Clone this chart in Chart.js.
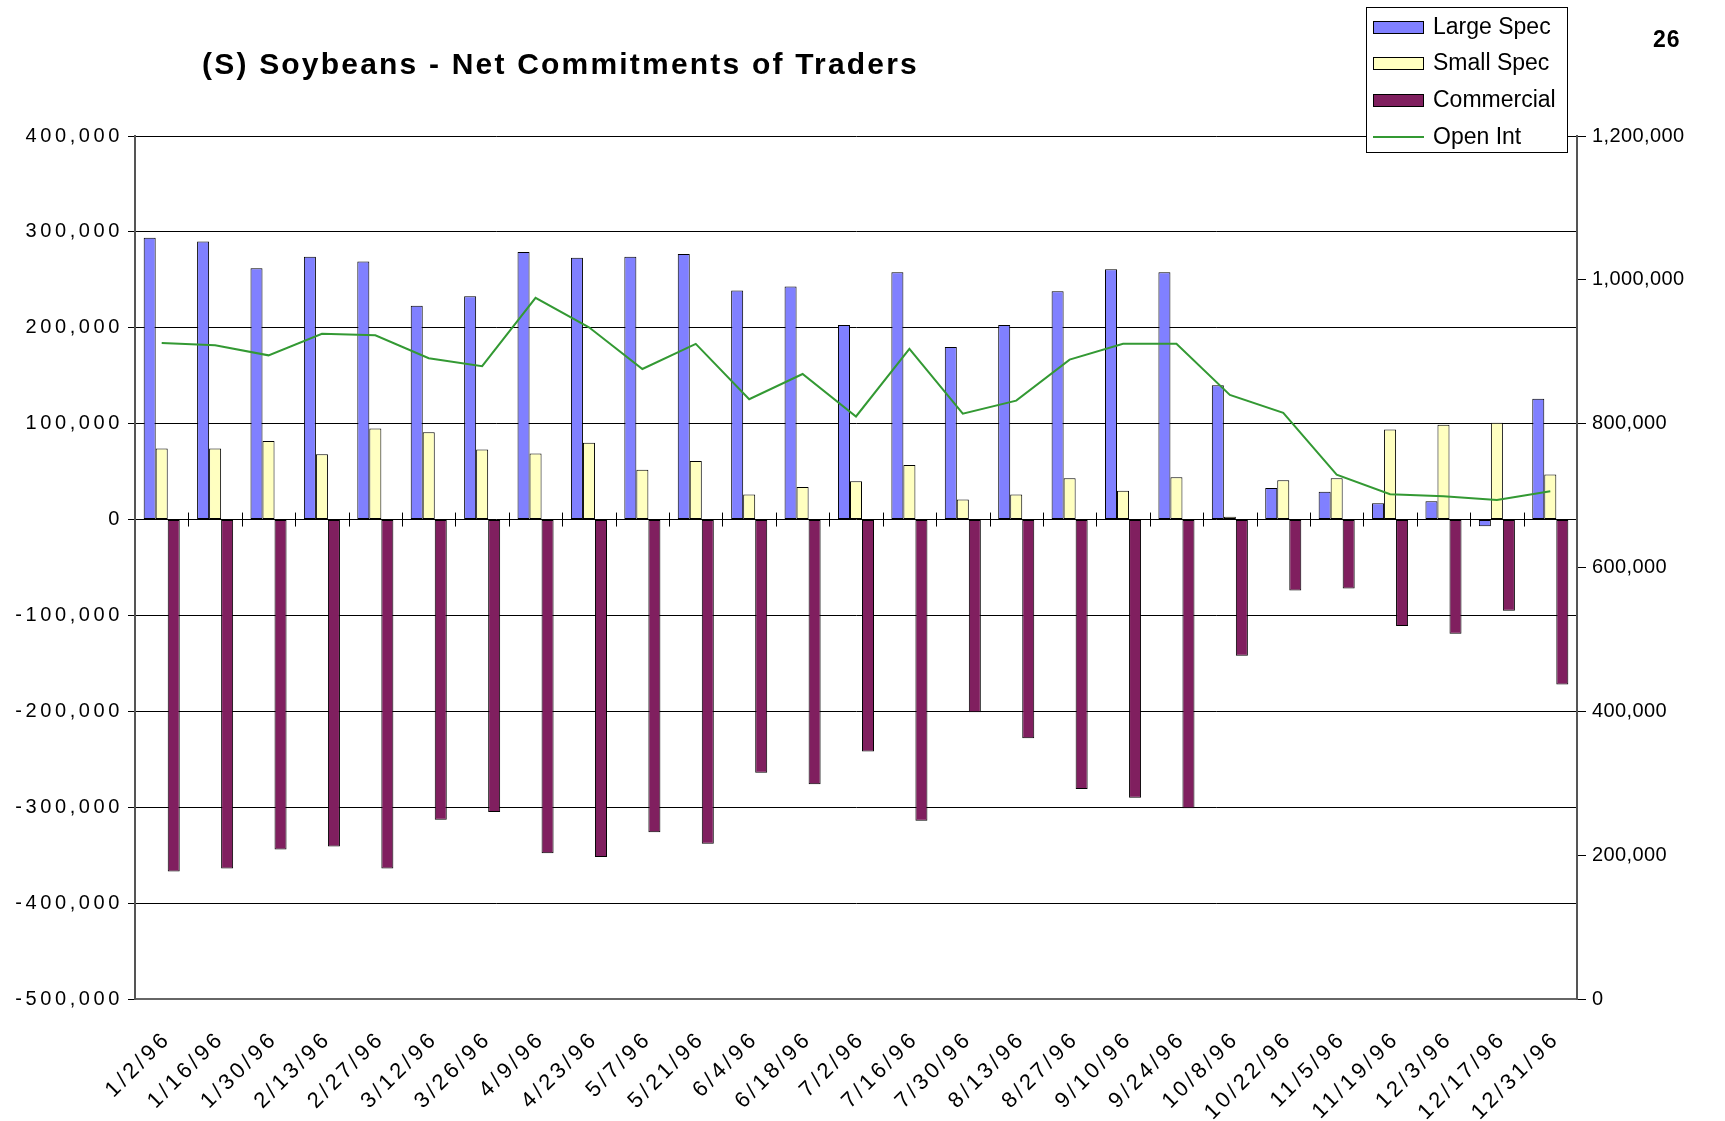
<!DOCTYPE html>
<html>
<head>
    <title>(S) Soybeans - Net Commitments of Traders</title>
    <script src="https://cdn.jsdelivr.net/npm/chart.js"></script>
    <style>
        html, body {
            margin: 0;
            padding: 0;
            background: #fff;
        }
        #wrap {
            width: 1725px;
            height: 1121px;
        }
    </style>
</head>
<body>
    <div id="wrap"><canvas id="cotChart" width="1725" height="1121"></canvas></div>

    <script>
        const weeks = ['1/2/96', '1/16/96', '1/30/96', '2/13/96', '2/27/96', '3/12/96', '3/26/96', '4/9/96', '4/23/96',
            '5/7/96', '5/21/96', '6/4/96', '6/18/96', '7/2/96', '7/16/96', '7/30/96', '8/13/96', '8/27/96', '9/10/96',
            '9/24/96', '10/8/96', '10/22/96', '11/5/96', '11/19/96', '12/3/96', '12/17/96', '12/31/96'];

        const largeSpec = [294000, 290000, 262000, 274000, 269000, 223000, 233000, 279000, 273000, 274000, 277000,
            239000, 243000, 203000, 258000, 180000, 203000, 238000, 261000, 258000, 140000, 33000, 29000, 17000,
            19000, -7000, 126000];

        const smallSpec = [74000, 74000, 82000, 68000, 95000, 91000, 73000, 69000, 80000, 52000, 61000, 26000,
            34000, 40000, 57000, 21000, 26000, 43000, 30000, 44000, 3000, 41000, 43000, 94000, 99000, 101000, 47000];

        const commercial = [-367000, -364000, -344000, -341000, -364000, -313000, -305000, -348000, -352000,
            -326000, -338000, -264000, -276000, -242000, -314000, -201000, -228000, -281000, -290000, -301000,
            -142000, -74000, -72000, -111000, -119000, -95000, -172000];

        const openInt = [912000, 909000, 895000, 925000, 923000, 891000, 880000, 975000, 934000, 876000, 911000,
            834000, 869000, 810000, 904000, 814000, 832000, 889000, 911000, 911000, 840000, 815000, 729000, 702000,
            699000, 694000, 706000];

        const seriesNames = ['Large Spec', 'Small Spec', 'Commercial', 'Open Int'];
        const seriesColors = ['#8080ff', '#ffffc0', '#801f5f', '#339933'];

        const fmt = (v) => Number(v).toLocaleString('en-US');

        // titel, seitennummer, legende, rechte achsenbeschriftung und die striche auf der nulllinie
        const extras = {
            id: 'extras',
            beforeDraw(chart) {
                chart.ctx.letterSpacing = '3.6px';
            },
            afterDatasetsDraw(chart) {
                const ctx = chart.ctx;
                const area = chart.chartArea;
                const y0 = chart.scales.y.getPixelForValue(0);
                const step = (area.right - area.left) / weeks.length;
                ctx.save();
                ctx.strokeStyle = '#000';
                ctx.lineWidth = 1;
                ctx.beginPath();
                for (let i = 1; i < weeks.length; i++) {
                    const x = Math.round(area.left + i * step) + 0.5;
                    ctx.moveTo(x, y0 - 7);
                    ctx.lineTo(x, y0 + 7);
                }
                ctx.stroke();
                ctx.restore();
            },
            afterDraw(chart) {
                const ctx = chart.ctx;
                ctx.save();
                ctx.fillStyle = '#000';

                // rechte achse (open interest)
                const y2 = chart.scales.y2;
                ctx.letterSpacing = '0.4px';
                ctx.font = '20px "Liberation Sans", Arial, sans-serif';
                ctx.textAlign = 'left';
                ctx.textBaseline = 'middle';
                y2.ticks.forEach((t) => {
                    ctx.fillText(fmt(t.value), 1592, y2.getPixelForValue(t.value));
                });

                ctx.textBaseline = 'alphabetic';
                ctx.letterSpacing = '2.2px';
                ctx.font = 'bold 30px "Liberation Sans", Arial, sans-serif';
                ctx.fillText('(S) Soybeans - Net Commitments of Traders', 202, 74);
                ctx.letterSpacing = '1px';
                ctx.font = 'bold 23px "Liberation Sans", Arial, sans-serif';
                ctx.fillText('26', 1653, 47);

                // legende
                ctx.letterSpacing = '0px';
                ctx.fillStyle = '#fff';
                ctx.fillRect(1366, 7, 202, 146);
                ctx.strokeStyle = '#000';
                ctx.lineWidth = 1;
                ctx.strokeRect(1366.5, 7.5, 201, 145);
                const rows = [27, 63, 100, 137];
                ctx.font = '23px "Liberation Sans", Arial, sans-serif';
                ctx.textBaseline = 'middle';
                for (let i = 0; i < 4; i++) {
                    if (i < 3) {
                        ctx.fillStyle = seriesColors[i];
                        ctx.fillRect(1373, rows[i] - 6, 50, 12);
                        ctx.strokeStyle = '#000';
                        ctx.strokeRect(1373.5, rows[i] - 5.5, 50, 12);
                    } else {
                        ctx.strokeStyle = seriesColors[i];
                        ctx.lineWidth = 2;
                        ctx.beginPath();
                        ctx.moveTo(1373, rows[i]);
                        ctx.lineTo(1424, rows[i]);
                        ctx.stroke();
                    }
                    ctx.fillStyle = '#000';
                    ctx.fillText(seriesNames[i], 1433, rows[i] + 1);
                }
                ctx.restore();
            }
        };

        const ctx = document.getElementById('cotChart').getContext('2d');
        const tickFont = { family: '"Liberation Sans", Arial, sans-serif', size: 20 };

        new Chart(ctx, {
            type: 'bar',
            data: {
                labels: weeks,
                datasets: [
                    {
                        type: 'line',
                        label: seriesNames[3],
                        data: openInt,
                        yAxisID: 'y2',
                        borderColor: seriesColors[3],
                        borderWidth: 2,
                        pointRadius: 0,
                        tension: 0,
                        fill: false,
                        order: 0
                    },
                    {
                        label: seriesNames[0],
                        data: largeSpec,
                        yAxisID: 'y',
                        backgroundColor: seriesColors[0],
                        borderColor: '#000',
                        borderWidth: 1,
                        borderSkipped: false,
                        order: 1
                    },
                    {
                        label: seriesNames[1],
                        data: smallSpec,
                        yAxisID: 'y',
                        backgroundColor: seriesColors[1],
                        borderColor: '#000',
                        borderWidth: 1,
                        borderSkipped: false,
                        order: 1
                    },
                    {
                        label: seriesNames[2],
                        data: commercial,
                        yAxisID: 'y',
                        backgroundColor: seriesColors[2],
                        borderColor: '#000',
                        borderWidth: 1,
                        borderSkipped: false,
                        order: 1
                    }
                ]
            },
            options: {
                responsive: false,
                animation: false,
                layout: { padding: { top: 136, left: 0, right: 0, bottom: 0 } },
                datasets: {
                    bar: { categoryPercentage: 0.675, barPercentage: 1.0 }
                },
                plugins: {
                    legend: { display: false },
                    title: { display: false },
                    tooltip: { enabled: false }
                },
                scales: {
                    x: {
                        offset: true,
                        grid: { display: false, drawTicks: false },
                        border: { display: true, color: '#666', width: 2 },
                        ticks: {
                            color: '#000',
                            font: { family: tickFont.family, size: 22 },
                            minRotation: 45,
                            maxRotation: 45,
                            autoSkip: false,
                            padding: 27,
                            labelOffset: 6
                        },
                        afterFit(scale) { scale.height = 122; }
                    },
                    y: {
                        position: 'left',
                        min: -500000,
                        max: 400000,
                        grid: { color: '#000', lineWidth: 1, tickLength: 7 },
                        border: { display: true, color: '#555', width: 2 },
                        ticks: {
                            stepSize: 100000,
                            color: '#000',
                            font: tickFont,
                            padding: 5,
                            callback: (v) => fmt(v)
                        },
                        afterFit(scale) { scale.width = 135; }
                    },
                    y2: {
                        position: 'right',
                        min: 0,
                        max: 1200000,
                        grid: { drawOnChartArea: false, color: '#000', tickLength: 9 },
                        border: { display: true, color: '#555', width: 2 },
                        ticks: {
                            stepSize: 200000,
                            display: false
                        },
                        afterFit(scale) { scale.width = 148; }
                    }
                }
            },
            plugins: [extras]
        });
    </script>
</body>
</html>
